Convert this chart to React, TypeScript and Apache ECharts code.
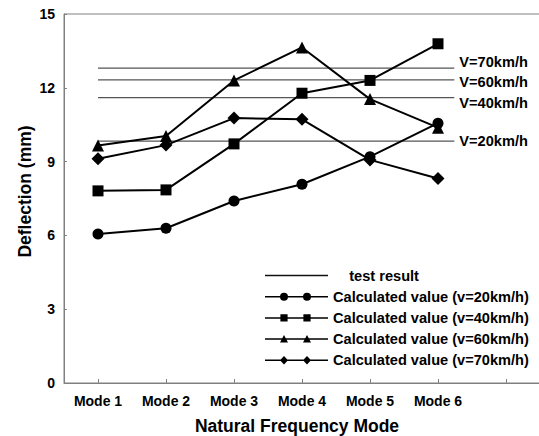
import React, { useEffect, useRef } from "react";
import * as echarts from "echarts";

const modes = ["Mode 1", "Mode 2", "Mode 3", "Mode 4", "Mode 5", "Mode 6", ""];
const v20 = [6.06, 6.29, 7.4, 8.08, 9.2, 10.56];
const v40 = [7.81, 7.85, 9.72, 11.78, 12.3, 13.79];
const v60 = [9.65, 10.04, 12.3, 13.64, 11.54, 10.38];
const v70 = [9.12, 9.67, 10.77, 10.72, 9.07, 8.31];
const testNames = ["V=70km/h", "V=60km/h", "V=40km/h", "V=20km/h"];
const testValues = [12.8, 12.32, 11.6, 9.83];
const testStart = 1;
const testEnd = 6.24;
const seriesNames = [
  "Calculated value (v=20km/h)",
  "Calculated value (v=40km/h)",
  "Calculated value (v=60km/h)",
  "Calculated value (v=70km/h)",
];
const testName = "test result";

const FONT = "'Liberation Sans', Arial, sans-serif";

const corners = "M0,0L0.001,0Z M63,10L62.999,10Z ";
const lineRect = "M0,4.25H63V5.75H0Z ";
const iconTest = "path://" + corners + "M0,4.3H63V5.7H0Z";
const iconCircle =
  "path://" + corners + lineRect + "M15,5A4,4 0 1,1 23,5A4,4 0 1,1 15,5Z M38,5A4,4 0 1,1 46,5A4,4 0 1,1 38,5Z";
const iconSquare =
  "path://" + corners + lineRect + "M15.4,1.4H22.6V8.6H15.4Z M38.4,1.4H45.6V8.6H38.4Z";
const iconTriangle =
  "path://" + corners + lineRect + "M19,1L23,8.5H15Z M42,1L46,8.5H38Z";
const iconDiamond =
  "path://" + corners + lineRect + "M19,0.8L23,5L19,9.2L15,5Z M42,0.8L46,5L42,9.2L38,5Z";

const testOffsets = [-6, 2, 5, 0];

export default function App() {
  const ref = useRef<HTMLDivElement>(null);
  useEffect(() => {
    if (!ref.current) return;
    const chart = echarts.init(ref.current, null, { renderer: "svg" });
    const testSeries = testValues.map((v, i) => ({
      type: "line",
      name: testName,
      xAxisIndex: 1,
      yAxisIndex: 0,
      symbol: "none",
      z: 1,
      lineStyle: { color: "#555", width: 1.2 },
      itemStyle: { color: "#555" },
      data: [
        [testStart, v],
        [testEnd, v],
      ],
      endLabel: {
        show: true,
        formatter: () => testNames[i],
        color: "#000",
        fontFamily: FONT,
        fontWeight: "bold",
        fontSize: 14.6,
        distance: 5,
        offset: [0, testOffsets[i]],
      },
    }));
    const symbols = ["circle", "rect", "triangle", "diamond"];
    const sizes = [11, 11, 12, 13];
    const vals = [v20, v40, v60, v70];
    const calcSeries = vals.map((d, i) => ({
      type: "line",
      name: seriesNames[i],
      xAxisIndex: 0,
      yAxisIndex: 0,
      symbol: symbols[i],
      symbolSize: sizes[i],
      z: 3,
      lineStyle: { color: "#000", width: 2 },
      itemStyle: { color: "#000", borderWidth: 0 },
      data: d,
    }));
    const icons = [iconCircle, iconSquare, iconTriangle, iconDiamond];
    chart.setOption({
      animation: false,
      backgroundColor: "#fff",
      grid: {
        left: 64,
        top: 14,
        width: 476,
        bottom: 53,
        containLabel: false,
        outerBoundsMode: "none",
        show: true,
        borderColor: "#808080",
        borderWidth: 1,
        backgroundColor: "transparent",
      },
      legend: {
        orient: "vertical",
        left: 265,
        top: 268,
        padding: 0,
        itemWidth: 63,
        itemHeight: 10,
        itemGap: 6.2,
        selectedMode: false,
        formatter: (name: string) => (name === testName ? "    " + name : name),
        textStyle: {
          color: "#000",
          fontFamily: FONT,
          fontWeight: "bold",
          fontSize: 14.6,
        },
        itemStyle: { borderWidth: 0 },
        data: [
          { name: testName, icon: iconTest, itemStyle: { color: "#111", borderWidth: 0 } },
          ...seriesNames.map((n, i) => ({
            name: n,
            icon: icons[i],
            itemStyle: { color: "#000", borderWidth: 0 },
          })),
        ],
      },
      xAxis: [
        {
          type: "category",
          data: modes,
          boundaryGap: true,
          name: "Natural Frequency Mode",
          nameLocation: "middle",
          nameGap: 33.5,
          nameMoveOverlap: false,
          nameTextStyle: {
            color: "#000",
            fontFamily: FONT,
            fontWeight: "bold",
            fontSize: 17.5,
            padding: [0, 10, 0, 0],
          },
          axisLine: { show: true, lineStyle: { color: "#808080", width: 1 } },
          axisTick: {
            show: true,
            alignWithLabel: true,
            inside: true,
            length: 4,
            lineStyle: { color: "#808080" },
          },
          axisLabel: {
            interval: 0,
            margin: 11,
            color: "#000",
            fontFamily: FONT,
            fontWeight: "bold",
            fontSize: 14,
          },
          splitLine: { show: false },
        },
        {
          type: "value",
          min: 0.5,
          max: 7.5,
          show: false,
          splitLine: { show: false },
        },
      ],
      yAxis: {
        type: "value",
        min: 0,
        max: 15,
        interval: 3,
        name: "Deflection (mm)",
        nameLocation: "middle",
        nameGap: 30,
        nameMoveOverlap: false,
        nameRotate: 90,
        nameTextStyle: {
          color: "#000",
          fontFamily: FONT,
          fontWeight: "bold",
          fontSize: 17.5,
          padding: [0, 0, 0, 14],
        },
        axisLine: { show: true, lineStyle: { color: "#808080", width: 1 } },
        axisTick: { show: true, inside: true, length: 3, lineStyle: { color: "#808080" } },
        axisLabel: {
          margin: 9,
          color: "#000",
          fontFamily: FONT,
          fontWeight: "bold",
          fontSize: 14,
        },
        splitLine: { show: false },
      },
      series: [...testSeries, ...calcSeries],
    });
    return () => chart.dispose();
  }, []);
  return (
    <div
      ref={ref}
      style={{ position: "fixed", left: 0, top: 0, width: 539, height: 436 }}
    />
  );
}
